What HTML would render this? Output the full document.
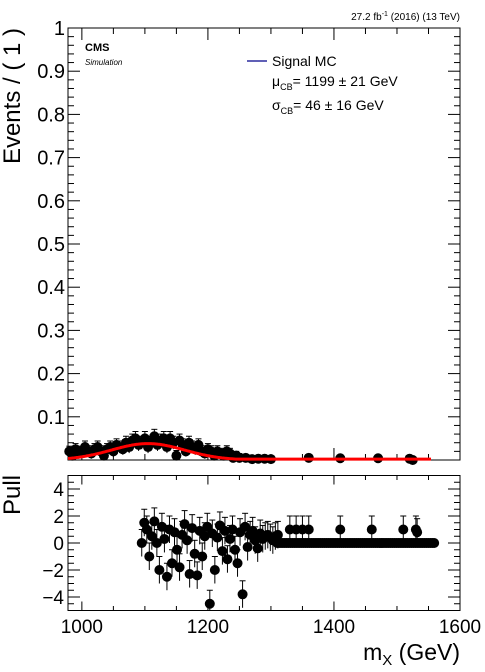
<!DOCTYPE html>
<html><head><meta charset="utf-8"><style>
html,body{margin:0;padding:0;background:#fff;width:485px;height:672px;overflow:hidden}
svg{display:block;font-family:"Liberation Sans",sans-serif}
</style></head><body>
<svg id="c" width="485" height="672"></svg>
<script>
const topX=[980,985,990,995,1000,1005,1010,1015,1020,1025,1030,1035,1040,1045,1050,1055,1060,1065,1070,1075,1080,1085,1090,1095,1100,1105,1110,1115,1120,1125,1130,1135,1140,1145,1150,1155,1160,1165,1170,1175,1180,1185,1190,1195,1200,1205,1210,1215,1220,1225,1230,1235,1240,1245,1250,1260,1270,1280,1290,1300,1360,1410,1470,1520,1525];
const topY=[0.02,0.01,0.025,0.015,0.02,0.03,0.02,0.015,0.025,0.03,0.02,0.01,0.025,0.03,0.02,0.035,0.03,0.025,0.04,0.03,0.045,0.05,0.035,0.04,0.05,0.03,0.04,0.055,0.035,0.045,0.05,0.03,0.05,0.04,0.01,0.045,0.035,0.02,0.04,0.03,0.025,0.035,0.02,0.015,0.025,0.02,0.01,0.02,0.015,0.01,0.02,0.015,0.005,0.01,0.005,0.005,0.002,0.003,0.003,0.002,0.005,0.004,0.004,0.003,0.0];
const topErr=[0.012,0.012,0.013,0.012,0.012,0.014,0.013,0.012,0.013,0.014,0.013,0.012,0.013,0.014,0.013,0.014,0.014,0.013,0.015,0.014,0.015,0.016,0.014,0.015,0.016,0.014,0.015,0.016,0.014,0.015,0.016,0.014,0.016,0.015,0.012,0.015,0.014,0.012,0.015,0.014,0.013,0.014,0.013,0.012,0.013,0.013,0.012,0.013,0.012,0.012,0.013,0.012,0.01,0.01,0.01,0.006,0.004,0.004,0.004,0.004,0.006,0.006,0.006,0.005,0.003];
const pullX=[1095,1099,1103,1107,1111,1115,1119,1123,1127,1131,1135,1139,1143,1147,1151,1155,1159,1163,1167,1171,1175,1179,1183,1187,1191,1195,1199,1203,1207,1211,1215,1219,1223,1227,1231,1235,1239,1243,1247,1251,1255,1259,1263,1267,1271,1275,1279,1283,1287,1291,1295,1299,1303,1307,1311,1330,1340,1350,1360,1410,1460,1510,1530,1532];
const pullY=[0,1.5,1,-1,0.5,1.6,0,-2,1.2,0.3,-2.5,1,-1.5,0.8,-0.5,-1.8,0.6,1.4,0.2,-2.3,1.1,-0.8,-2.4,0.9,-1,0.5,1.2,-4.5,0.7,-2,0.4,1.3,-0.6,0.9,-1.2,0.3,1,-0.5,-1.5,0.8,-3.8,1.2,-0.3,0.6,0.9,0.2,-0.4,0.7,0.3,0.5,0.6,0.4,0.2,0.5,0.6,1,1,1,1,1,1,1,1,0.8];
const pullErr=[1,1,1,1,1,1,1,1,1,1,1,1,1,1,1,1,1,1,1,1,1,1,1,1,1,1,1,1,1,1,1,1,1,1,1,1,1,1,1,1,1,1,1,1,1,1,1,1,1,1,1,1,1,1,1,1,1,1,1,1,1,1,1,1];
const curveMu=[1105],curveSig=[58],curveAmp=[0.038],curveFloor=[0.002];
const xTicks=[1000,1200,1400,1600];
const yTicksTop=[0.1,0.2,0.3,0.4,0.5,0.6,0.7,0.8,0.9,1];
const yTicksPull=[-4,-2,0,2,4];

const NS="http://www.w3.org/2000/svg",svg=document.getElementById('c');
function el(t,a,txt){const e=document.createElementNS(NS,t);for(const k in a)e.setAttribute(k,a[k]);if(txt!==undefined)e.textContent=txt;svg.appendChild(e);return e;}
const L=68,R=460,T1=28,B1=460,T2=475.5,B2=610.5,XMIN=978;
const X=v=>L+(v-XMIN)*(R-L)/(1600-XMIN);
const Y1=v=>B1-v*(B1-T1);
const Y2=v=>543-v*13.5;
let f=el('rect',{x:L,y:T1,width:R-L,height:B1-T1,fill:'none',stroke:'#000','stroke-width':1});

f=el('rect',{x:L,y:T2,width:R-L,height:B2-T2,fill:'none',stroke:'#000','stroke-width':1});

for(let v=1000;v<=1600;v+=50){const big=v%200===0,len=big?12:6,len2=big?6:3;
 el('line',{x1:X(v),x2:X(v),y1:B1,y2:B1-len,stroke:'#000'});el('line',{x1:X(v),x2:X(v),y1:T1,y2:T1+len,stroke:'#000'});
 el('line',{x1:X(v),x2:X(v),y1:B2,y2:B2-len2*1.5,stroke:'#000'});el('line',{x1:X(v),x2:X(v),y1:T2,y2:T2+len2*1.5,stroke:'#000'});}
xTicks.forEach(v=>{const t=el('text',{x:X(v),y:633,'font-size':19,'text-anchor':'middle'},v);
 });
for(let i=1;i<=50;i++){const v=i/50,big=i%5===0,len=big?12:6;
 el('line',{x1:L,x2:L+len,y1:Y1(v),y2:Y1(v),stroke:'#000'});el('line',{x1:R,x2:R-len,y1:Y1(v),y2:Y1(v),stroke:'#000'});}
yTicksTop.forEach(v=>{const t=el('text',{x:L-3,y:Y1(v)+7,'font-size':20,'text-anchor':'end'},v);
 });
for(let v=-5;v<=5;v+=0.5){const big=Number.isInteger(v)&&v%2===0,len=big?12:6;
 el('line',{x1:L,x2:L+len,y1:Y2(v),y2:Y2(v),stroke:'#000'});el('line',{x1:R,x2:R-len,y1:Y2(v),y2:Y2(v),stroke:'#000'});}
yTicksPull.forEach(v=>{const t=el('text',{x:L-4,y:Y2(v)+7,'font-size':19,'text-anchor':'end'},v===-4?'−4':v===-2?'−2':v);
 });
let t=el('text',{x:0,y:0,'font-size':24,'text-anchor':'end',transform:'translate(20,28) rotate(-90)'},'Events / ( 1 )');

t=el('text',{x:0,y:0,'font-size':24,'text-anchor':'end',transform:'translate(20,475) rotate(-90)'},'Pull');

t=el('text',{x:460,y:660,'font-size':23,'text-anchor':'end'});t.innerHTML='m<tspan font-size="15" dy="5">X</tspan><tspan dy="-5"> (GeV)</tspan>';

t=el('text',{x:460,y:20,'font-size':10,'text-anchor':'end'});t.innerHTML='27.2 fb<tspan font-size="7" dy="-4">-1</tspan><tspan dy="4"> (2016) (13 TeV)</tspan>';

t=el('text',{x:85,y:51,'font-size':11,'font-weight':'bold'},'CMS');
t=el('text',{x:85,y:65,'font-size':8,'font-style':'italic'},'Simulation');
el('line',{x1:247,x2:267,y1:61,y2:61,stroke:'#00008b','stroke-width':1.2});
t=el('text',{x:272,y:66,'font-size':14},'Signal MC');
t=el('text',{x:272,y:86,'font-size':14});t.innerHTML='μ<tspan font-size="9" dy="4">CB</tspan><tspan dy="-4">= 1199 ± 21 GeV</tspan>';

t=el('text',{x:272,y:110,'font-size':14});t.innerHTML='σ<tspan font-size="9" dy="4">CB</tspan><tspan dy="-4">= 46 ± 16 GeV</tspan>';

function pts(xs,ys,es,Y,name,clip){for(let i=0;i<xs.length;i++){const x=X(xs[i]),y=Y(ys[i]);
 const lo=Math.min(Y(ys[i]-es[i]),clip),hi=Y(ys[i]+es[i]);
 el('line',{x1:x,x2:x,y1:lo,y2:hi,stroke:'#000'});el('line',{x1:x-3,x2:x+3,y1:hi,y2:hi,stroke:'#000'});
 const c=el('circle',{cx:x,cy:y,r:5,fill:'#000'});}}
pts(topX,topY,topErr,Y1,'data-point',B1);
for(let v=1310;v<=1560;v+=3){const c=el('circle',{cx:X(v),cy:Y2(0),r:5,fill:'#000'});}
pts(pullX,pullY,pullErr,Y2,'pull-point',B2);
let d='';for(let v=XMIN;v<=1555;v+=2){let y=curveAmp[0]*Math.exp(-0.5*((v-curveMu[0])/curveSig[0])**2);y=Math.max(y,curveFloor[0]);d+=(d?'L':'M')+X(v).toFixed(1)+','+Y1(y).toFixed(1);}
const p=el('path',{d:d,fill:'none',stroke:'#f00','stroke-width':3});
</script>
</body></html>
